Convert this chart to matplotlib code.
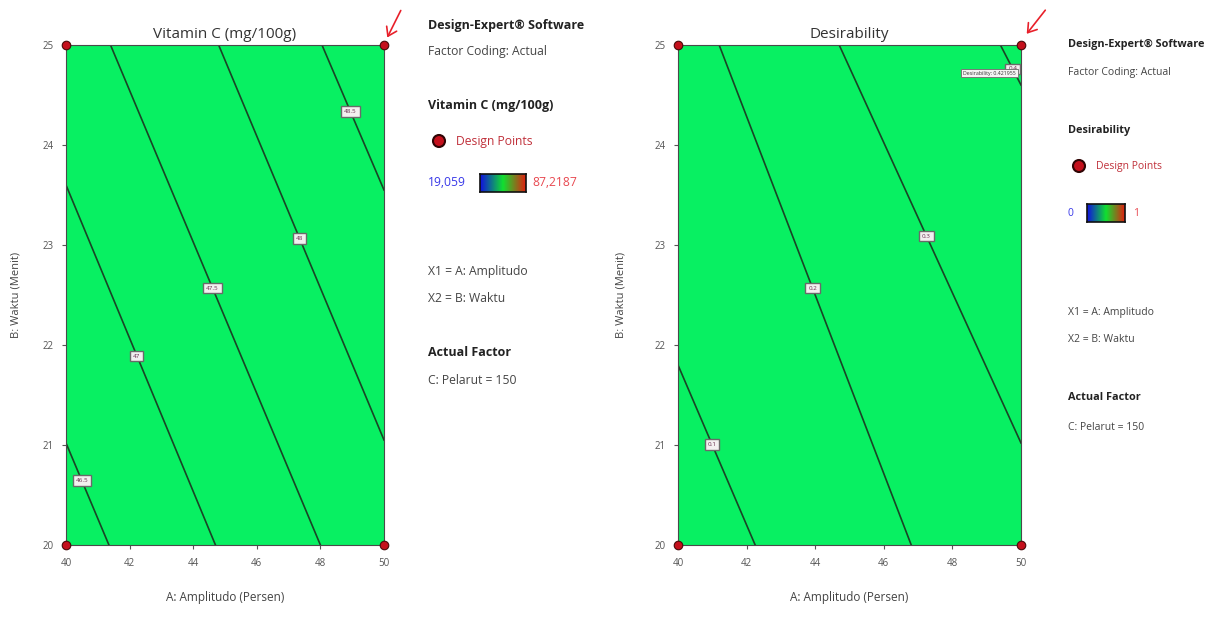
import numpy as np
import matplotlib
matplotlib.use('Agg')
import matplotlib.pyplot as plt
from matplotlib.colors import LinearSegmentedColormap

plt.rcParams['font.family'] = ['Open Sans', 'DejaVu Sans']

# ---------------- data ----------------
x_range = [40, 50]
y_range = [20, 25]
x_ticks = [40, 42, 44, 46, 48, 50]
y_ticks = [20, 21, 22, 23, 24, 25]
design_x = [40, 50, 40, 50]
design_y = [20, 20, 25, 25]

# contour lines of vitamin C: start (x, y) -> end (x, y)
vit_x0 = [40.0, 40.0, 41.4, 44.8, 48.05]
vit_y0 = [21.02, 23.6, 25.0, 25.0, 25.0]
vit_x1 = [41.35, 44.7, 48.0, 50.0, 50.0]
vit_y1 = [20.0, 20.0, 20.0, 21.05, 23.55]
vit_labels = ['46.5', '47', '47.5', '48', '48.5']
vit_label_t = [0.37, 0.475, 0.486, 0.49, 0.46]

# contour lines of desirability
des_x0 = [40.0, 41.2, 44.7, 49.4]
des_y0 = [21.8, 25.0, 25.0, 25.0]
des_x1 = [42.25, 46.8, 50.0, 50.0]
des_y1 = [20.0, 20.0, 21.02, 24.6]
des_labels = ['0.1', '0.2', '0.3', '0.4']
des_label_t = [0.44, 0.486, 0.48, 0.6]

fill_green = '#08f062'
line_col = '#1a4426'


def draw_panel(ax, title, x0, y0, x1, y1, labels, ts, ylab_x):
    ax.set_facecolor(fill_green)
    for a, b, c, d, lab, t in zip(x0, y0, x1, y1, labels, ts):
        ax.plot([a, c], [b, d], color=line_col, lw=1.2, zorder=2)
        lx = a + t * (c - a)
        ly = b + t * (d - b)
        ax.text(lx, ly, lab, fontsize=4.5, color='#6a3050', ha='center', va='center', zorder=3,
                bbox=dict(boxstyle='square,pad=0.45', fc='#f2f0f0', ec='#6a6a6a', lw=1.0))
    ax.scatter(design_x, design_y, s=38, color='#c4101c', edgecolor='#4a0a0a',
               linewidth=0.8, zorder=5, clip_on=False)
    ax.set_xlim(x_range)
    ax.set_ylim(y_range)
    ax.set_xticks(x_ticks)
    ax.set_yticks(y_ticks)
    ax.tick_params(labelsize=7, colors='#555555', length=3, width=0.8, pad=6)
    for s in ax.spines.values():
        s.set_color('#4a4a4a')
        s.set_linewidth(0.8)
    ax.set_title(title, fontsize=11, color='#333333', pad=5)
    ax.set_xlabel('A: Amplitudo (Persen)', fontsize=8.5, color='#444444', labelpad=16)
    ax.set_ylabel('B: Waktu (Menit)', fontsize=8, color='#444444')
    ax.yaxis.set_label_coords(ylab_x, 0.5)


fig = plt.figure(figsize=(12.1, 6.21), dpi=100)
W, H = 1210.0, 621.0


def fx(px):
    return px / W


def fy(py):
    return 1 - py / H


ax1 = fig.add_axes([fx(66), fy(545), (384 - 66) / W, 500 / H])
draw_panel(ax1, 'Vitamin C (mg/100g)', vit_x0, vit_y0, vit_x1, vit_y1, vit_labels, vit_label_t, -0.14)

ax2 = fig.add_axes([fx(678), fy(545), (1021 - 678) / W, 500 / H])
draw_panel(ax2, 'Desirability', des_x0, des_y0, des_x1, des_y1, des_labels, des_label_t, -0.15)
ax2.text(49.85, 24.72, 'Desirability: 0.421955', fontsize=3.8, color='#333333', ha='right', va='center',
         zorder=4, bbox=dict(boxstyle='square,pad=0.35', fc='#f4f4f4', ec='#777777', lw=0.7))

# red arrows pointing at the chosen corner
for tail, head in [((402, 8), (386, 40)), ((1047, 8), (1025, 36))]:
    fig.patches.append(matplotlib.patches.FancyArrowPatch(
        (fx(tail[0]), fy(tail[1])), (fx(head[0]), fy(head[1])), transform=fig.transFigure,
        arrowstyle='->,head_length=6,head_width=4', color='#e8202a', lw=1.2))

cmap = LinearSegmentedColormap.from_list('de', ['#1010e0', '#10e030', '#e02010'])
grad = np.linspace(0, 1, 100).reshape(1, -1)


def legend_block(x, ys, resp, lo, hi, cb_x, cb_w, hi_x, fs):
    fig.text(fx(x), fy(ys[0]), 'Design-Expert® Software', fontsize=fs, fontweight='bold',
             color='#222222', va='center')
    fig.text(fx(x), fy(ys[1]), 'Factor Coding: Actual', fontsize=fs - 0.3, color='#444444', va='center')
    fig.text(fx(x), fy(ys[2]), resp, fontsize=fs, fontweight='bold', color='#222222', va='center')
    fig.patches.append(matplotlib.patches.Ellipse((fx(x + 11), fy(ys[3])), 12 / W, 12 / H,
                       transform=fig.transFigure, fc='#c4101c', ec='#300505', lw=1.5))
    fig.text(fx(x + 28), fy(ys[3]), 'Design Points', fontsize=fs - 0.3, color='#c0303a', va='center')
    fig.text(fx(x), fy(ys[4]), lo, fontsize=fs - 0.3, color='#3838e8', va='center')
    cax = fig.add_axes([fx(cb_x), fy(ys[4] + 9), cb_w / W, 18 / H])
    cax.imshow(grad, cmap=cmap, aspect='auto')
    cax.set_xticks([])
    cax.set_yticks([])
    for s in cax.spines.values():
        s.set_color('#111111')
        s.set_linewidth(1.2)
    fig.text(fx(hi_x), fy(ys[4]), hi, fontsize=fs - 0.3, color='#e84850', va='center')
    fig.text(fx(x), fy(ys[5]), 'X1 = A: Amplitudo', fontsize=fs - 0.3, color='#444444', va='center')
    fig.text(fx(x), fy(ys[6]), 'X2 = B: Waktu', fontsize=fs - 0.3, color='#444444', va='center')
    fig.text(fx(x), fy(ys[7]), 'Actual Factor', fontsize=fs, fontweight='bold', color='#222222', va='center')
    fig.text(fx(x), fy(ys[8]), 'C: Pelarut = 150', fontsize=fs - 0.3, color='#444444', va='center')


legend_block(428, [25, 52, 105, 141, 183, 272, 298, 352, 380], 'Vitamin C (mg/100g)',
             '19,059', '87,2187', 480, 46, 532, 9.0)
legend_block(1068, [44, 72, 130, 166, 213, 312, 340, 398, 427], 'Desirability',
             '0', '1', 1087, 38, 1133, 7.8)

fig.savefig('out.png', dpi=100, facecolor='white')
